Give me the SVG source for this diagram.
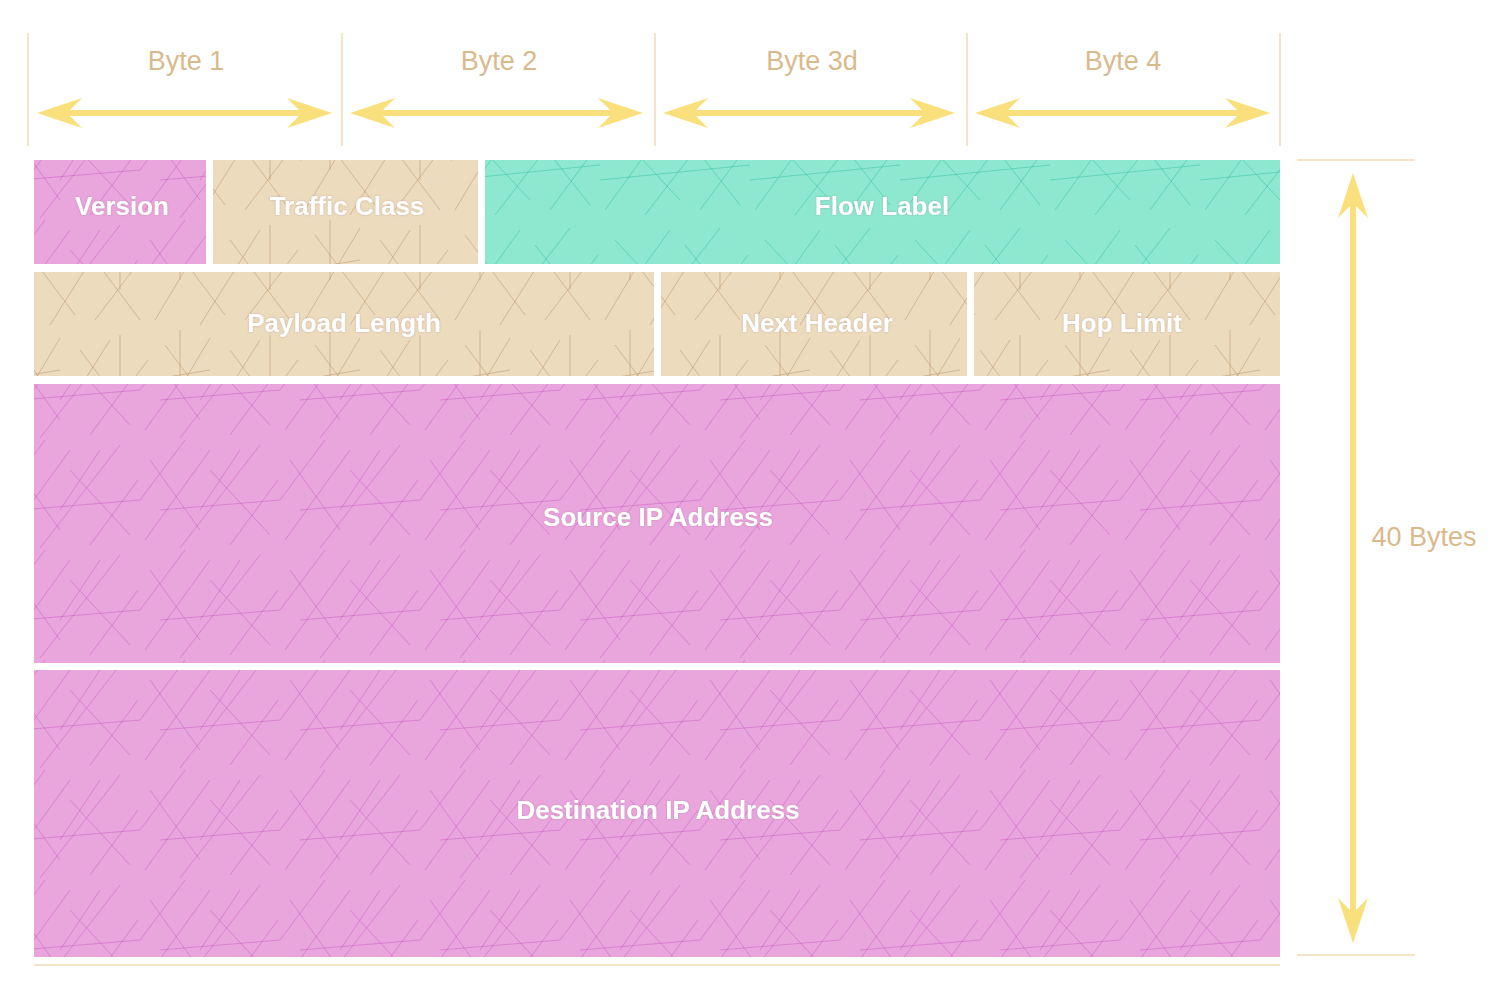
<svg xmlns="http://www.w3.org/2000/svg" width="1498" height="997" viewBox="0 0 1498 997">
<defs>
<style>
.sep{stroke:#F3E3C8;stroke-width:2;fill:none}
.arr{fill:#F9E07C}
.blab{font-family:"Liberation Sans",Arial,sans-serif;font-size:27px;fill:#D9BA8C;text-anchor:middle}
.flab{font-family:"Liberation Sans",Arial,sans-serif;font-size:26px;font-weight:bold;fill:#FFFFFF;text-anchor:middle;dominant-baseline:central;filter:url(#sh)}
.pink{fill:#E8A6DD}
.tan{fill:#EDDBBE}
.teal{fill:#8EE8CF}
</style>
<filter id="sh" x="-10%" y="-30%" width="120%" height="160%">
<feGaussianBlur in="SourceAlpha" stdDeviation="1"/>
<feOffset dx="0" dy="0" result="b"/>
<feFlood flood-color="#7a5a6a" flood-opacity="0.35"/>
<feComposite in2="b" operator="in"/>
<feMerge><feMergeNode/><feMergeNode in="SourceGraphic"/></feMerge>
</filter>
<pattern id="tx-pink" width="140" height="110" patternUnits="userSpaceOnUse">
<g stroke="#C94FC0" stroke-width="1" opacity="0.45" fill="none">
<path d="M5 100 L70 10 M40 108 L120 5 M90 105 L138 40 M10 20 L60 90 M70 30 L130 95 M0 60 L45 0 M100 10 L60 70 M20 70 L140 60"/>
</g>
</pattern>
<pattern id="tx-tan" width="150" height="110" patternUnits="userSpaceOnUse">
<g stroke="#B08A5E" stroke-width="1" opacity="0.45" fill="none">
<path d="M5 100 L60 8 M50 105 L110 10 M95 100 L148 30 M15 15 L75 95 M80 20 L140 100 M30 0 L30 60 M120 5 L120 70 M0 50 L60 40"/>
</g>
</pattern>
<pattern id="tx-teal" width="150" height="110" patternUnits="userSpaceOnUse">
<g stroke="#2FBF9A" stroke-width="1" opacity="0.5" fill="none">
<path d="M5 100 L70 10 M45 105 L120 8 M100 100 L148 35 M15 20 L80 90 M85 25 L140 95 M0 70 L150 55"/>
</g>
</pattern>
</defs>

<g id="guides">
<line class="sep" x1="28" y1="33" x2="28" y2="146"/>
<line class="sep" x1="342" y1="33" x2="342" y2="146"/>
<line class="sep" x1="655" y1="33" x2="655" y2="146"/>
<line class="sep" x1="967" y1="33" x2="967" y2="146"/>
<line class="sep" x1="1280" y1="33" x2="1280" y2="146"/>
<line class="sep" x1="1297" y1="160" x2="1415" y2="160"/>
<line class="sep" x1="1297" y1="955" x2="1415" y2="955"/>
<line class="sep" x1="34" y1="965" x2="1280" y2="965"/>
</g>

<g id="connectors">
<path class="arr" d="M37 113 L82 98 L70 110 L299 110 L287 98 L332 113 L287 128 L299 116 L70 116 L82 128 Z"/>
<path class="arr" d="M350 113 L395 98 L383 110 L610 110 L598 98 L643 113 L598 128 L610 116 L383 116 L395 128 Z"/>
<path class="arr" d="M663 113 L708 98 L696 110 L922 110 L910 98 L955 113 L910 128 L922 116 L696 116 L708 128 Z"/>
<path class="arr" d="M975 113 L1020 98 L1008 110 L1237 110 L1225 98 L1270 113 L1225 128 L1237 116 L1008 116 L1020 128 Z"/>
<path class="arr" d="M1353 173 L1368 218 L1356 206 L1356 910 L1368 898 L1353 943 L1338 898 L1350 910 L1350 206 L1338 218 Z"/>
</g>

<g id="labels">
<text class="blab" x="186" y="70">Byte 1</text>
<text class="blab" x="499" y="70">Byte 2</text>
<text class="blab" x="812" y="70">Byte 3d</text>
<text class="blab" x="1123" y="70">Byte 4</text>
<text class="blab" x="1424" y="546">40 Bytes</text>
</g>

<g id="version">
<rect class="pink" x="34" y="160" width="172" height="104"/>
<rect fill="url(#tx-pink)" x="34" y="160" width="172" height="104"/>
<text class="flab" x="122" y="206">Version</text>
</g>
<g id="traffic-class">
<rect class="tan" x="213" y="160" width="265" height="104"/>
<rect fill="url(#tx-tan)" x="213" y="160" width="265" height="104"/>
<text class="flab" x="347" y="206">Traffic Class</text>
</g>
<g id="flow-label">
<rect class="teal" x="485" y="160" width="795" height="104"/>
<rect fill="url(#tx-teal)" x="485" y="160" width="795" height="104"/>
<text class="flab" x="882" y="206">Flow Label</text>
</g>
<g id="payload-length">
<rect class="tan" x="34" y="272" width="620" height="104"/>
<rect fill="url(#tx-tan)" x="34" y="272" width="620" height="104"/>
<text class="flab" x="344" y="323">Payload Length</text>
</g>
<g id="next-header">
<rect class="tan" x="661" y="272" width="306" height="104"/>
<rect fill="url(#tx-tan)" x="661" y="272" width="306" height="104"/>
<text class="flab" x="817" y="323">Next Header</text>
</g>
<g id="hop-limit">
<rect class="tan" x="974" y="272" width="306" height="104"/>
<rect fill="url(#tx-tan)" x="974" y="272" width="306" height="104"/>
<text class="flab" x="1122" y="323">Hop Limit</text>
</g>
<g id="source-ip">
<rect class="pink" x="34" y="384" width="1246" height="279"/>
<rect fill="url(#tx-pink)" x="34" y="384" width="1246" height="279"/>
<text class="flab" x="658" y="517">Source IP Address</text>
</g>
<g id="destination-ip">
<rect class="pink" x="34" y="670" width="1246" height="287"/>
<rect fill="url(#tx-pink)" x="34" y="670" width="1246" height="287"/>
<text class="flab" x="658" y="810">Destination IP Address</text>
</g>
</svg>
